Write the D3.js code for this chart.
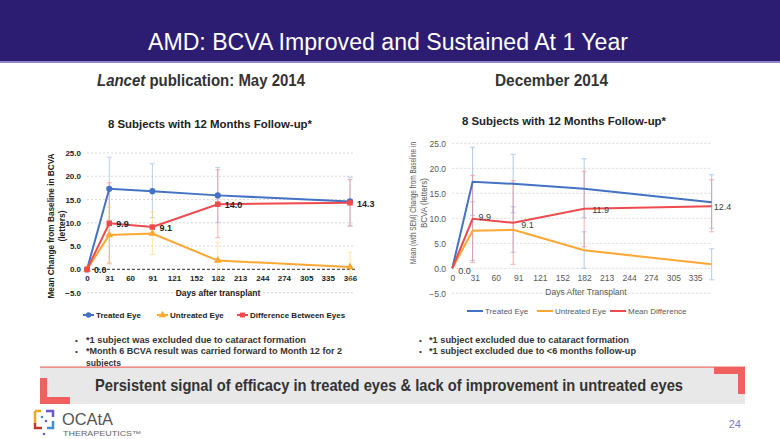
<!DOCTYPE html>
<html>
<head>
<meta charset="utf-8">
<script src="https://cdn.jsdelivr.net/npm/d3@7"></script>
<style>
  body { margin:0; background:#fff; }
  svg { display:block; font-family:"Liberation Sans", Arial, sans-serif; }
</style>
</head>
<body>
<svg id="slide" width="780" height="439"></svg>
<script>
// ---- data ----
const yTicks = [-5, 0, 5, 10, 15, 20, 25];
const leftTickDays = [0, 31, 60, 91, 121, 152, 182, 213, 244, 274, 305, 335, 366];
const rightTickDays = [0, 31, 60, 91, 121, 152, 182, 213, 244, 274, 305, 335];

const leftDays = [0, 31, 91, 182, 366];
const leftTreated = [0, 17.3, 16.8, 15.9, 14.6];
const leftUntreated = [0, 7.4, 7.7, 1.9, 0.5];
const leftDiff = [0, 9.9, 9.1, 14.0, 14.3];
const leftTreatedLo = [null, 10.6, 11.1, 10.1, 9.4];
const leftTreatedHi = [null, 24.1, 22.7, 21.9, 19.8];
const leftUntreatedLo = [null, 1.5, 3.2, -2.0, -2.4];
const leftUntreatedHi = [null, 13.4, 12.4, 5.8, 3.7];
const leftDiffLo = [null, 1.2, null, 6.8, 9.3];
const leftDiffHi = [null, 18.6, null, 21.4, 19.3];

const rightDays = [0, 28, 84, 182, 358];
const rightTreated = [0, 17.3, 16.9, 15.9, 13.2];
const rightUntreated = [0, 7.5, 7.7, 3.6, 0.8];
const rightDiff = [0, 9.9, 9.1, 11.9, 12.4];
const rightTreatedLo = [null, 10.6, 11.1, 10.1, 8.0];
const rightTreatedHi = [null, 24.2, 22.8, 21.9, 18.7];
const rightUntreatedLo = [null, 1.6, 3.2, 0.0, -2.3];
const rightUntreatedHi = [null, 13.3, 12.3, 7.3, 3.9];
const rightDiffLo = [null, 1.2, 0.8, 4.3, 7.3];
const rightDiffHi = [null, 18.6, 17.5, 19.4, 17.7];

const blue = "#4472c4", orange = "#ffa733", red = "#f04a4e";

const svg = d3.select("#slide");

// squeeze a text to a given width
const fit = (sel, w) => sel.attr("textLength", w).attr("lengthAdjust", "spacingAndGlyphs");

// header
svg.append("rect").attr("x", 0).attr("y", 0).attr("width", 780).attr("height", 61).attr("fill", "#2c1d72");
svg.append("rect").attr("x", 0).attr("y", 61).attr("width", 780).attr("height", 2).attr("fill", "#8e86c8");
fit(svg.append("text").attr("x", 148).attr("y", 50)
  .attr("fill", "#fff").style("font-size", "23px")
  .text("AMD: BCVA Improved and Sustained At 1 Year"), 480);

const sub = svg.append("text").attr("x", 97).attr("y", 86).attr("fill", "#333")
  .style("font-size", "16px").style("font-weight", "bold");
fit(sub, 208);
sub.append("tspan").style("font-style", "italic").text("Lancet");
sub.append("tspan").text(" publication: May 2014");
fit(svg.append("text").attr("x", 495).attr("y", 86).attr("fill", "#333")
  .style("font-size", "16px").style("font-weight", "bold").text("December 2014"), 113);

// one chart panel
function drawPanel(p) {
  const x = d3.scaleLinear().domain(p.xDomain).range(p.xRange);
  const y = d3.scaleLinear().domain([-5, 25]).range(p.yRange);
  const g = svg.append("g");
  const w = p.bold ? "bold" : "normal";
  const txt = p.bold ? "#222" : "#595959";

  fit(g.append("text").attr("x", p.titleX - 102).attr("y", p.titleY)
    .style("font-size", "11.5px").style("font-weight", "bold").attr("fill", "#222").text(p.title), 204);

  // grid
  g.selectAll(".grid").data(yTicks.filter(t => p.bold ? t !== 0 : true)).enter().append("line")
    .attr("x1", p.xRange[0]).attr("x2", p.gridEnd)
    .attr("y1", d => y(d)).attr("y2", d => y(d))
    .attr("stroke", "#d9d9d9").attr("stroke-width", 1).attr("stroke-dasharray", "2,2");
  if (p.bold) {
    g.append("line").attr("x1", p.xRange[0]).attr("x2", p.gridEnd)
      .attr("y1", y(0)).attr("y2", y(0))
      .attr("stroke", "#555").attr("stroke-width", 1.2).attr("stroke-dasharray", "3,2");
  }

  // y axis labels
  const yAxis = d3.axisLeft(y).tickValues(yTicks).tickFormat(d3.format(".1f")).tickSize(0).tickPadding(0);
  const ya = g.append("g").attr("transform", `translate(${p.yLabelX},0)`).call(yAxis);
  ya.select(".domain").remove();
  ya.selectAll("text").style("font-size", p.tickSize).style("font-weight", w).attr("fill", txt)
    .style("font-family", "'Liberation Sans', Arial, sans-serif");

  // x axis labels
  const xAxis = d3.axisBottom(x).tickValues(p.tickDays).tickFormat(d3.format("d")).tickSize(0).tickPadding(0);
  const xa = g.append("g").attr("transform", `translate(0,${p.xLabelY})`).call(xAxis);
  xa.select(".domain").remove();
  xa.selectAll("text").style("font-size", p.tickSize).style("font-weight", w).attr("fill", txt)
    .style("font-family", "'Liberation Sans', Arial, sans-serif");

  g.append("text").attr("x", p.xTitleX).attr("y", p.xTitleY).attr("text-anchor", "middle")
    .style("font-size", "8.5px").style("font-weight", w).attr("fill", txt).text(p.xTitle);

  const yt = g.append("text").attr("transform", `translate(${p.yTitleX},${p.yTitleY}) rotate(-90)`)
    .attr("text-anchor", "middle").style("font-size", p.yTitleSize).style("font-weight", w).attr("fill", txt);
  p.yTitle.forEach((line, i) => {
    const ts = yt.append("tspan").attr("x", 0).attr("dy", i ? 11 : 0).text(line);
    if (p.yTitleLen[i]) fit(ts, p.yTitleLen[i]);
  });

  // error bars
  p.series.forEach(s => {
    const eb = p.days.map((d, i) => ({ d, lo: s.lo[i], hi: s.hi[i] })).filter(e => e.lo !== null);
    const eg = g.append("g").attr("stroke", s.errColor).attr("stroke-width", 1).attr("opacity", 0.6);
    eg.selectAll("line.v").data(eb).enter().append("line")
      .attr("x1", e => x(e.d)).attr("x2", e => x(e.d)).attr("y1", e => y(e.lo)).attr("y2", e => y(e.hi));
    ["lo", "hi"].forEach(k => {
      eg.selectAll("line." + k).data(eb).enter().append("line")
        .attr("x1", e => x(e.d) - 2.5).attr("x2", e => x(e.d) + 2.5)
        .attr("y1", e => y(e[k])).attr("y2", e => y(e[k]));
    });
  });

  // lines + markers
  p.series.forEach(s => {
    const pts = p.days.map((d, i) => [d, s.values[i]]);
    g.append("path").datum(pts)
      .attr("d", d3.line().x(d => x(d[0])).y(d => y(d[1])))
      .attr("fill", "none").attr("stroke", s.color).attr("stroke-width", p.lineW);
    if (p.markers) {
      const sym = d3.symbol().type(s.symbol).size(s.symbol === d3.symbolTriangle ? 26 : 30);
      g.selectAll(null).data(pts).enter().append("path")
        .attr("transform", d => `translate(${x(d[0])},${y(d[1])})`)
        .attr("d", sym).attr("fill", s.color);
    }
  });

  // data labels for difference series
  const ds = p.series[2];
  g.selectAll(null).data(p.days.map((d, i) => ({ d, v: ds.values[i], off: p.labelOff[i] }))).enter()
    .append("text")
    .attr("x", e => x(e.d) + e.off[0]).attr("y", e => y(e.v) + e.off[1])
    .style("font-size", "9px").style("font-weight", w).attr("fill", p.bold ? "#222" : "#404040")
    .text(e => d3.format(".1f")(e.v));

  // legend
  p.series.forEach((s, i) => {
    const lx = p.legendX[i];
    g.append("line").attr("x1", lx).attr("x2", lx + p.swatch).attr("y1", p.legendY).attr("y2", p.legendY)
      .attr("stroke", s.color).attr("stroke-width", 2);
    if (p.markers) {
      g.append("path").attr("transform", `translate(${lx + p.swatch / 2},${p.legendY})`)
        .attr("d", d3.symbol().type(s.symbol).size(24)).attr("fill", s.color);
    }
    g.append("text").attr("x", lx + p.swatch + 2).attr("y", p.legendY + 3)
      .style("font-size", "8px").style("font-weight", w).attr("fill", txt).text(s.name);
  });
}

drawPanel({
  bold: true, markers: true, lineW: 2, tickSize: "8px",
  title: "8 Subjects with 12 Months Follow-up*", titleX: 210, titleY: 128,
  xDomain: [0, 366], xRange: [87, 350], yRange: [292.7, 153], gridEnd: 355,
  yLabelX: 81, xLabelY: 275, tickDays: leftTickDays,
  xTitle: "Days after transplant", xTitleX: 218, xTitleY: 296,
  yTitle: ["Mean Change from Baseline in BCVA", "(letters)"], yTitleX: 54, yTitleY: 226,
  yTitleSize: "8.5px", yTitleLen: [145, null],
  days: leftDays,
  labelOff: [[7, 4], [7, 4], [7, 4], [7, 4], [7, 4]],
  series: [
    { name: "Treated Eye", values: leftTreated, lo: leftTreatedLo, hi: leftTreatedHi, color: blue, errColor: "#8fb4e3", symbol: d3.symbolCircle },
    { name: "Untreated Eye", values: leftUntreated, lo: leftUntreatedLo, hi: leftUntreatedHi, color: orange, errColor: "#ffd966", symbol: d3.symbolTriangle },
    { name: "Difference Between Eyes", values: leftDiff, lo: leftDiffLo, hi: leftDiffHi, color: red, errColor: "#f47c80", symbol: d3.symbolSquare }
  ],
  legendX: [83, 157, 237], legendY: 315, swatch: 11
});

drawPanel({
  bold: false, markers: false, lineW: 2, tickSize: "8.5px",
  title: "8 Subjects with 12 Months Follow-up*", titleX: 564, titleY: 125,
  xDomain: [0, 335], xRange: [452.3, 695], yRange: [293.3, 143.3], gridEnd: 712,
  yLabelX: 446, xLabelY: 275, tickDays: rightTickDays,
  xTitle: "Days After Transplant", xTitleX: 586, xTitleY: 295,
  yTitle: ["Mean (with SEM)  Change from Baseline in", "BCVA (letters)"], yTitleX: 415.5, yTitleY: 203,
  yTitleSize: "8.8px", yTitleLen: [122, 50],
  days: rightDays,
  labelOff: [[6, 6], [6, 1], [8, 5], [8, 4], [2, 4]],
  series: [
    { name: "Treated Eye", values: rightTreated, lo: rightTreatedLo, hi: rightTreatedHi, color: blue, errColor: "#7fa9dd" },
    { name: "Untreated Eye", values: rightUntreated, lo: rightUntreatedLo, hi: rightUntreatedHi, color: orange, errColor: "#7fa9dd" },
    { name: "Mean Difference", values: rightDiff, lo: rightDiffLo, hi: rightDiffHi, color: red, errColor: "#f47c80" }
  ],
  legendX: [467, 537, 610], legendY: 311, swatch: 16
});

// footnotes
const leftNotes = ["*1 subject was excluded due to cataract formation", "*Month 6  BCVA result was carried forward to Month 12 for 2"];
const leftNoteLen = [220, 256];
const rightNotes = ["*1 subject excluded due to cataract formation", "*1 subject excluded due to <6 months follow-up"];
const rightNoteLen = [200, 207];
function notes(list, lens, bx, tx) {
  list.forEach((t, i) => {
    svg.append("text").attr("x", bx).attr("y", 343 + i * 11.4).style("font-size", "8px").attr("fill", "#333").text("•");
    fit(svg.append("text").attr("x", tx).attr("y", 343 + i * 11.4)
      .style("font-size", "9.5px").style("font-weight", "bold").attr("fill", "#333").text(t), lens[i]);
  });
}
notes(leftNotes, leftNoteLen, 75, 86);
notes(rightNotes, rightNoteLen, 419, 429);
fit(svg.append("text").attr("x", 86).attr("y", 365.5)
  .style("font-size", "9.5px").style("font-weight", "bold").attr("fill", "#333").text("subjects"), 35);

// banner
svg.append("rect").attr("x", 40).attr("y", 367).attr("width", 705).attr("height", 37).attr("fill", "#e8e8e8");
svg.append("rect").attr("x", 40).attr("y", 366.5).attr("width", 705).attr("height", 1.2).attr("fill", "#f06a68");
const coral = "#f0605e";
svg.append("rect").attr("x", 40).attr("y", 378).attr("width", 7).attr("height", 26).attr("fill", coral);
svg.append("rect").attr("x", 40).attr("y", 397).attr("width", 30).attr("height", 7).attr("fill", coral);
svg.append("rect").attr("x", 714).attr("y", 367).attr("width", 31).attr("height", 7).attr("fill", coral);
svg.append("rect").attr("x", 738).attr("y", 367).attr("width", 7).attr("height", 27).attr("fill", coral);
fit(svg.append("text").attr("x", 95).attr("y", 391)
  .style("font-size", "16.5px").style("font-weight", "bold").attr("fill", "#333")
  .text("Persistent signal of efficacy in treated eyes & lack of improvement in untreated eyes"), 588);

// logo
const logo = svg.append("g").attr("transform", "translate(35,411)");
logo.append("path").attr("d", "M0,0 h6 M0,0 v12").attr("stroke", "#f5a623").attr("stroke-width", 2.5).attr("fill", "none");
logo.append("path").attr("d", "M11,0 h7 v6").attr("stroke", "#6a5acd").attr("stroke-width", 2.5).attr("fill", "none");
logo.append("path").attr("d", "M0,12 v5 h7").attr("stroke", "#c0392b").attr("stroke-width", 2.5).attr("fill", "none");
logo.append("path").attr("d", "M18,10 v7 h-6").attr("stroke", "#3d8fd6").attr("stroke-width", 2.5).attr("fill", "none");
logo.append("circle").attr("cx", 7).attr("cy", 6).attr("r", 1.3).attr("fill", "#3d8fd6");
logo.append("circle").attr("cx", 11).attr("cy", 10).attr("r", 1.3).attr("fill", "#6a5acd");
logo.append("circle").attr("cx", 9).attr("cy", 23).attr("r", 1.3).attr("fill", "#6a5acd");
fit(svg.append("text").attr("x", 62).attr("y", 425).style("font-size", "17px").attr("fill", "#555")
  .text("OCAtA"), 51);
fit(svg.append("text").attr("x", 63).attr("y", 436).style("font-size", "7px").attr("fill", "#666")
  .text("THERAPEUTICS™"), 78);
svg.append("text").attr("x", 741).attr("y", 428).attr("text-anchor", "end").style("font-size", "11px")
  .attr("fill", "#7b78d0").text("24");
</script>
</body>
</html>
